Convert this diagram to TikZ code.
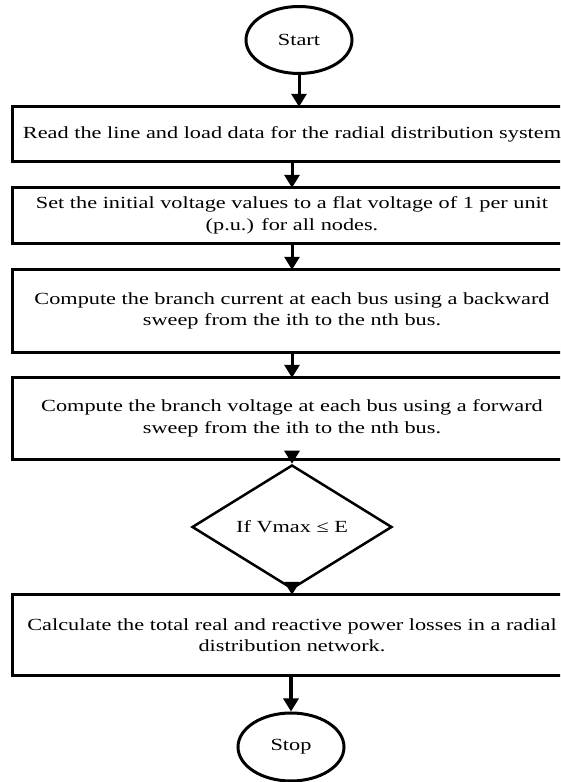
\documentclass[tikz,border=0pt]{standalone}
\usepackage{fontspec}
\setmainfont{Liberation Serif}[FakeStretch=1.31]
\usepackage{tikz}
\usetikzlibrary{arrows.meta,shapes.geometric}

\begin{document}
\begin{tikzpicture}[x=1pt, y=1pt, >={Triangle[width=15pt,length=13pt]},
  every node/.style={font=\fontsize{17}{21.5}\selectfont},
  stepbox/.style={rectangle, minimum width=558pt, align=center, inner sep=0pt},
  term/.style={draw, ellipse, line width=3pt, minimum width=106pt, minimum height=67pt, inner sep=0pt},
  test/.style={draw, diamond, line width=2.5pt, minimum width=200pt, minimum height=80pt, inner sep=0pt},
  flow/.style={->, line width=3pt}]

\path[use as bounding box, clip] (0,0) rectangle (560,782);

\node[term] (start) at (299,742) {Start};
\node[stepbox, minimum height=54pt] (read) at (292,648)
  {Read the line and load data for the radial distribution system};
\node[stepbox, minimum height=55pt] (init) at (292,566.5)
  {Set the initial voltage values to a flat voltage of 1 per unit\\(p.u.) for all nodes.};
\node[stepbox, minimum height=82pt] (current) at (292,471)
  {Compute the branch current at each bus using a backward\\sweep from the ith to the nth bus.};
\node[stepbox, minimum height=81pt] (voltage) at (292,363.5)
  {Compute the branch voltage at each bus using a forward\\sweep from the ith to the nth bus.};
\node[test] (check) at (292,255) {If Vmax ≤ E};
\node[stepbox, minimum height=80pt] (losses) at (292,147)
  {Calculate the total real and reactive power losses in a radial\\distribution network.};
\node[term, minimum height=68pt] (stop) at (291,35) {Stop};

\foreach \b in {read,init,current,voltage,losses}
  \draw[line width=3pt] (\b.north west) rectangle ([xshift=40pt]\b.south east);

\draw[flow] (start.south) -- (start.south |- read.north);
\draw[flow] (read.south) -- (init.north);
\draw[flow] (init.south) -- (current.north);
\draw[flow] (current.south) -- (voltage.north);
\draw[flow] (voltage.south) -- (check.north);
\draw[flow] (check.south) -- (losses.north);
\draw[flow, line width=4pt] (losses.south -| stop.north) -- (stop.north);

\end{tikzpicture}
\end{document}
